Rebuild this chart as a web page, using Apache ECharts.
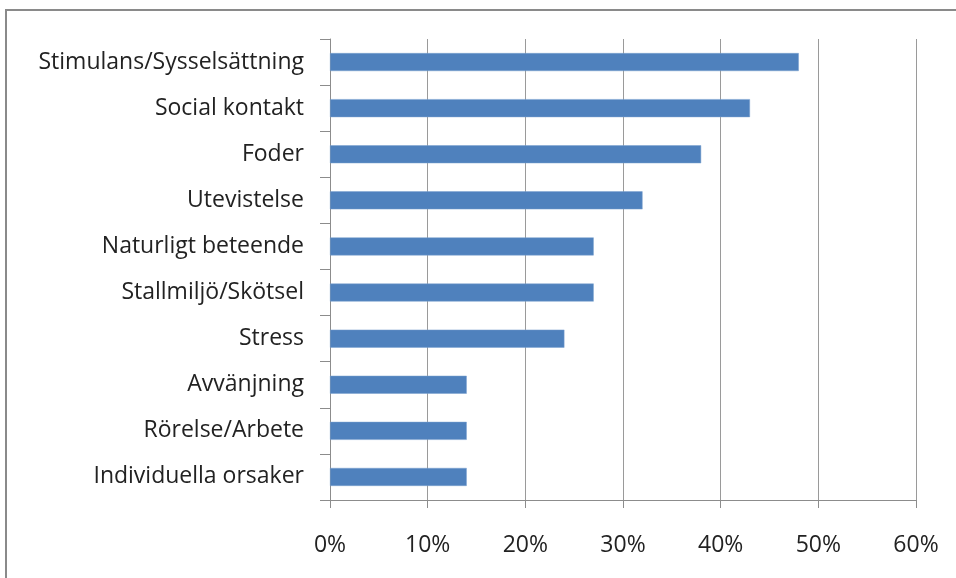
<!DOCTYPE html>
<html>
<head>
<meta charset="utf-8">
<script src="https://cdn.jsdelivr.net/npm/echarts@6/dist/echarts.min.js"></script>
<style>html,body{margin:0;padding:0;background:#fff}#c{width:956px;height:578px}</style>
</head>
<body>
<div id="c"></div>
<script>
var categories = ["Stimulans/Sysselsättning","Social kontakt","Foder","Utevistelse","Naturligt beteende","Stallmiljö/Skötsel","Stress","Avvänjning","Rörelse/Arbete","Individuella orsaker"];
var values = [48, 43, 38, 32, 27, 27, 24, 14, 14, 14];
var xTicks = [0, 10, 20, 30, 40, 50, 60];

var chart = echarts.init(document.getElementById('c'), null, {renderer:'canvas'});
var font = "Open Sans";
chart.setOption({
  animation:false,
  graphic:[{type:'rect', shape:{x:6, y:10, width:1200, height:1200}, style:{fill:'none', stroke:'#8a8a8a', lineWidth:2}, silent:true}],
  grid:{left:330, right:40, top:39, bottom:78, containLabel:false},
  xAxis:{type:'value', min:xTicks[0], max:xTicks[xTicks.length-1], interval:10,
    axisLine:{show:true, lineStyle:{color:'#8c8c8c', width:1}},
    axisTick:{show:true, length:8, lineStyle:{color:'#8c8c8c'}},
    splitLine:{show:true, lineStyle:{color:'#9a9a9a', width:1}},
    axisLabel:{formatter:'{value}%', color:'#222', fontFamily:font, fontSize:23, margin:34}},
  yAxis:{type:'category', data:categories, inverse:true,
    axisLine:{show:true, lineStyle:{color:'#8c8c8c', width:1}},
    axisTick:{show:true, length:10, inside:false, lineStyle:{color:'#8c8c8c'}},
    splitLine:{show:false},
    axisLabel:{color:'#222', fontFamily:font, fontSize:23, margin:26, padding:[4,0,0,0]}},
  series:[{type:'bar', data:values, barWidth:18, itemStyle:{color:'#4F81BD', borderColor:'#7BA0CF', borderWidth:0.5}}]
});
</script>
</body>
</html>
